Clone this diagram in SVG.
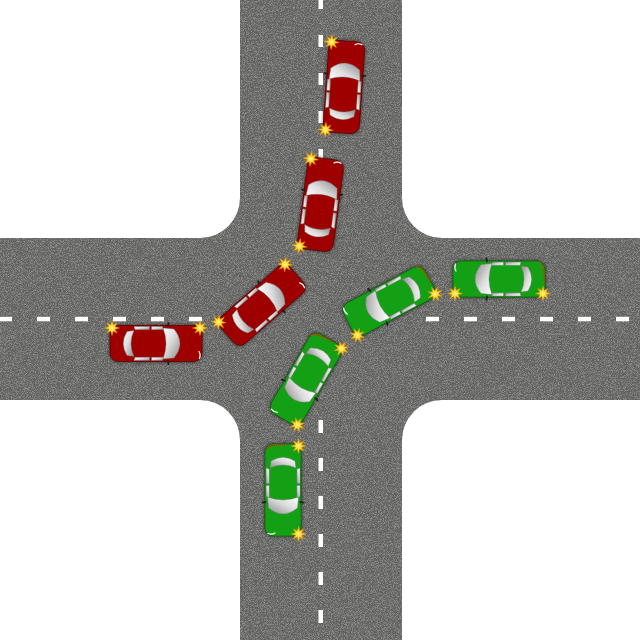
<svg xmlns="http://www.w3.org/2000/svg" xmlns:xlink="http://www.w3.org/1999/xlink" width="640" height="640" viewBox="0 0 640 640">
  <style>
    .dash { fill: #ffffff; }
    .glass { stroke: #6e6e6e; stroke-width: 0.4; }
    .mirror { stroke: #1e1e1e; stroke-width: 1.8; stroke-linecap: round; fill: none; }
    .hl { stroke: #ffffff; stroke-width: 1.2; fill: none; stroke-linecap: round; }
    .red-body { fill: #9e0000; stroke: #660000; stroke-width: 0.8; }
    .green-body { fill: #14a014; stroke: #0b6a0b; stroke-width: 0.8; }
    .shadow { fill: #000000; opacity: 0.45; }
    .tail { stroke: #c83a00; stroke-width: 1; fill: none; }
    .star { fill: url(#starGrad); stroke: #e89a00; stroke-width: 0.5; }
  </style>
  <defs>
    <filter id="grain" x="0" y="0" width="640" height="640" filterUnits="userSpaceOnUse">
      <feTurbulence type="fractalNoise" baseFrequency="1.3" numOctaves="2" seed="7" result="t"/>
      <feColorMatrix in="t" type="matrix" values="0 0 0 0 1  0 0 0 0 1  0 0 0 0 1  0.5 0 0 0 -0.22" result="w"/>
      <feComposite in="w" in2="SourceGraphic" operator="in" result="wi"/>
      <feColorMatrix in="t" type="matrix" values="0 0 0 0 0  0 0 0 0 0  0 0 0 0 0  -0.5 0 0 0 0.3" result="b"/>
      <feComposite in="b" in2="SourceGraphic" operator="in" result="bi"/>
      <feMerge>
        <feMergeNode in="SourceGraphic"/>
        <feMergeNode in="wi"/>
        <feMergeNode in="bi"/>
      </feMerge>
    </filter>
    <filter id="blur" x="-20%" y="-30%" width="140%" height="160%">
      <feGaussianBlur stdDeviation="1.6"/>
    </filter>
    <linearGradient id="silver" x1="0" y1="0" x2="1" y2="1">
      <stop offset="0" stop-color="#ffffff"/>
      <stop offset="0.45" stop-color="#dcdcdc"/>
      <stop offset="1" stop-color="#8a8a8a"/>
    </linearGradient>
    <radialGradient id="starGrad" cx="0.5" cy="0.5" r="0.5">
      <stop offset="0" stop-color="#fff48a"/>
      <stop offset="0.55" stop-color="#ffd21e"/>
      <stop offset="1" stop-color="#f3a300"/>
    </radialGradient>
    <path id="star" class="star" d="M7.5,0 L2.96,1.22 L5.1,5.1 L1.22,2.96 L0,7.5 L-1.22,2.96 L-5.1,5.1 L-2.96,1.22 L-7.5,0 L-2.96,-1.22 L-5.1,-5.1 L-1.22,-2.96 L0,-7.5 L1.22,-2.96 L5.1,-5.1 L2.96,-1.22 Z"/>
    <g id="glass">
      <!-- windshield (front) -->
      <path class="glass" fill="url(#silver)" d="M7,-15.5 Q13,0 7,15.5 L18,14.5 Q30,0 18,-14.5 Z"/>
      <!-- rear window -->
      <path class="glass" fill="url(#silver)" d="M-22,-13 Q-28,0 -22,13 L-29,12 Q-36.4,0 -29,-12 Z"/>
      <!-- side windows -->
      <polygon class="glass" fill="url(#silver)" points="-22,-17 -6.5,-17 -6.5,-13.8 -21,-13.8"/>
      <polygon class="glass" fill="url(#silver)" points="-4.5,-17 6.5,-17 7.5,-13.8 -4.5,-13.8"/>
      <polygon class="glass" fill="url(#silver)" points="-22,17 -6.5,17 -6.5,13.8 -21,13.8"/>
      <polygon class="glass" fill="url(#silver)" points="-4.5,17 6.5,17 7.5,13.8 -4.5,13.8"/>
      <!-- mirrors -->
      <path class="mirror" d="M12,-17.5 L12.6,-20.5 M12,17.5 L12.6,20.5"/>
      <!-- headlight highlight -->
      <path class="hl" d="M43,8 Q45,11 43.5,15"/>
    </g>
    <g id="car-red">
      <rect class="shadow" x="-47" y="-19" width="94" height="38" rx="9" filter="url(#blur)"/>
      <rect class="red-body" x="-46" y="-18" width="92" height="36" rx="8.5"/>
      <use href="#glass"/>
    </g>
    <g id="car-green">
      <rect class="shadow" x="-47" y="-19" width="94" height="38" rx="9" filter="url(#blur)"/>
      <rect class="green-body" x="-46" y="-18" width="92" height="36" rx="8.5"/>
      <path class="tail" d="M-40,17.4 Q-45.4,16 -45.4,-3"/>
      <use href="#glass"/>
    </g>
  </defs>

  <rect x="0" y="0" width="640" height="640" fill="#ffffff"/>

  <g id="road">
    <path fill="#696968" filter="url(#grain)" d="M240,0 L240,198 A40,40 0 0 1 200,238 L0,238 L0,400 L200,400 A40,40 0 0 1 240,440 L240,640 L402,640 L402,440 A40,40 0 0 1 442,400 L640,400 L640,238 L442,238 A40,40 0 0 1 402,198 L402,0 Z"/>
  </g>

  <g id="markings">
    <rect class="dash" x="318.5" y="-3" width="4.5" height="12"/>
    <rect class="dash" x="318.5" y="35" width="4.5" height="12"/>
    <rect class="dash" x="318.5" y="73" width="4.5" height="12"/>
    <rect class="dash" x="318.5" y="111" width="4.5" height="12"/>
    <rect class="dash" x="318.5" y="149" width="4.5" height="12"/>
    <rect class="dash" x="318.5" y="187" width="4.5" height="12"/>
    <rect class="dash" x="318.5" y="420" width="4.5" height="13"/>
    <rect class="dash" x="318.5" y="458" width="4.5" height="13"/>
    <rect class="dash" x="318.5" y="496" width="4.5" height="13"/>
    <rect class="dash" x="318.5" y="534" width="4.5" height="13"/>
    <rect class="dash" x="318.5" y="572" width="4.5" height="13"/>
    <rect class="dash" x="318.5" y="610" width="4.5" height="13"/>
    <rect class="dash" x="-1" y="316.8" width="13" height="4.5"/>
    <rect class="dash" x="37" y="316.8" width="13" height="4.5"/>
    <rect class="dash" x="75" y="316.8" width="13" height="4.5"/>
    <rect class="dash" x="113" y="316.8" width="13" height="4.5"/>
    <rect class="dash" x="151" y="316.8" width="13" height="4.5"/>
    <rect class="dash" x="189" y="316.8" width="13" height="4.5"/>
    <rect class="dash" x="426" y="316.8" width="13" height="4.5"/>
    <rect class="dash" x="464" y="316.8" width="13" height="4.5"/>
    <rect class="dash" x="502" y="316.8" width="13" height="4.5"/>
    <rect class="dash" x="540" y="316.8" width="13" height="4.5"/>
    <rect class="dash" x="578" y="316.8" width="13" height="4.5"/>
    <rect class="dash" x="616" y="316.8" width="13" height="4.5"/>
  </g>

  <g id="connectors"></g>

  <g id="red-car-1" transform="translate(344,87) rotate(-86)">
    <use href="#car-red"/>
    <use href="#star" x="44" y="-15.5"/>
    <use href="#star" x="-44" y="-15.5"/>
  </g>
  <g id="red-car-2" transform="translate(320.5,204.5) rotate(-82.5)">
    <use href="#car-red"/>
    <use href="#star" x="44" y="-15.5"/>
    <use href="#star" x="-44" y="-15.5"/>
  </g>
  <g id="red-car-3" transform="translate(262,305) rotate(-41)">
    <use href="#car-red"/>
    <use href="#star" x="44" y="-15.5"/>
    <use href="#star" x="-44" y="-15.5"/>
  </g>
  <g id="red-car-4" transform="translate(156,343.5)">
    <use href="#car-red"/>
    <use href="#star" x="44" y="-15.5"/>
    <use href="#star" x="-44" y="-15.5"/>
  </g>

  <g id="green-car-1" transform="translate(283,490) rotate(90)">
    <use href="#car-green"/>
    <use href="#star" x="44" y="-15.5"/>
    <use href="#star" x="-44" y="-15.5"/>
  </g>
  <g id="green-car-2" transform="translate(306,379) rotate(120)">
    <use href="#car-green"/>
    <use href="#star" x="44" y="-15.5"/>
    <use href="#star" x="-44" y="-15.5"/>
  </g>
  <g id="green-car-3" transform="translate(389,301) rotate(152)">
    <use href="#car-green"/>
    <use href="#star" x="44" y="-15.5"/>
    <use href="#star" x="-44" y="-15.5"/>
  </g>
  <g id="green-car-4" transform="translate(499,279) rotate(180)">
    <use href="#car-green"/>
    <use href="#star" x="44" y="-14.5"/>
    <use href="#star" x="-44" y="-14.5"/>
  </g>
</svg>
